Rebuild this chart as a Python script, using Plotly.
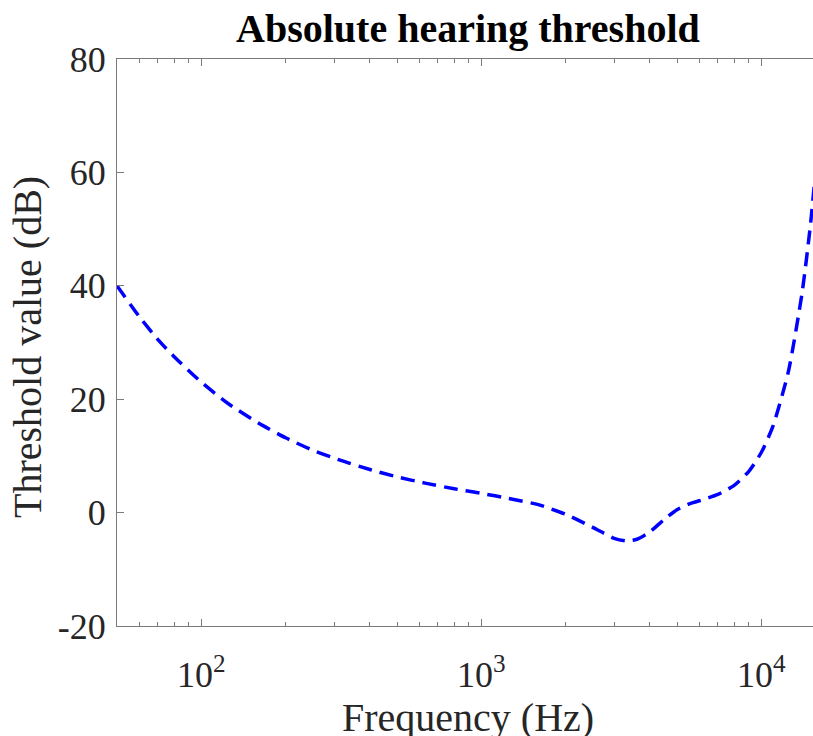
import numpy as np
import plotly.graph_objects as go

# Data
freq_hz = [50, 60, 70, 80, 100, 125, 160, 200, 250, 315, 400, 500, 630, 800,
           1000, 1250, 1600, 2000, 2500, 3000, 3300, 3600, 4000, 4500, 5000,
           5500, 6300, 7000, 8000, 9000, 10000, 11000, 12500, 14000, 15000, 16000]
threshold_db = [40.0, 34.6, 30.5, 27.5, 23.0, 19.2, 15.8, 13.2, 11.0, 9.2, 7.6, 6.3,
                5.2, 4.2, 3.4, 2.5, 1.4, -0.3, -2.6, -4.6, -5.0, -4.7, -3.4, -1.2,
                0.5, 1.5, 2.4, 3.2, 4.8, 7.2, 10.6, 15.2, 24.9, 38.9, 51.0, 65.9]

x_major = [100, 1000, 10000]
x_major_text = ["10<sup>2</sup>", "10<sup>3</sup>", "10<sup>4</sup>"]
x_minor = [50, 60, 70, 80, 90, 200, 300, 400, 500, 600, 700, 800, 900,
           2000, 3000, 4000, 5000, 6000, 7000, 8000, 9000, 20000]
y_ticks = [-20, 0, 20, 40, 60, 80]
y_tick_text = ["-20", "0", "20", "40", "60", "80"]

title_text = "Absolute hearing threshold"
x_label = "Frequency (Hz)"
y_label = "Threshold value (dB)"

FONT = "Liberation Serif"
AXC = "#262626"
LINEC = "#7a7a7a"

W, H = 813, 736
ML, MT, MR = 117, 59, 0
MB = H - 626
plot_w = W - ML - MR
plot_h = H - MT - MB
decade_px = 280.0
x_lo = np.log10(50)
x_hi = x_lo + plot_w / decade_px

fig = go.Figure()
fig.add_trace(go.Scatter(
    x=freq_hz, y=threshold_db, mode="lines",
    line=dict(color="#0000ff", width=3.5, dash="14px,8px", shape="spline", smoothing=0.6),
    showlegend=False, hoverinfo="skip",
))

fig.update_layout(
    width=W, height=H,
    margin=dict(l=ML, r=MR, t=MT, b=MB, pad=0, autoexpand=False),
    paper_bgcolor="white", plot_bgcolor="white",
    font=dict(family=FONT, color=AXC),
    xaxis=dict(
        type="log", range=[x_lo, x_hi], automargin=False,
        tickmode="array", tickvals=x_major, ticktext=x_major_text,
        ticks="inside", ticklen=7, tickwidth=1, tickcolor=LINEC,
        ticklabelstandoff=17,
        showline=True, linecolor=LINEC, linewidth=1, mirror="ticks",
        showgrid=False, zeroline=False,
        tickfont=dict(family=FONT, size=36, color=AXC),
        minor=dict(tickmode="array", tickvals=x_minor, ticks="inside",
                   ticklen=4, tickwidth=1, tickcolor=LINEC, showgrid=False),
    ),
    yaxis=dict(
        range=[-20, 80], automargin=False,
        tickmode="array", tickvals=y_ticks, ticktext=y_tick_text,
        ticks="inside", ticklen=7, tickwidth=1, tickcolor=LINEC,
        ticklabelstandoff=3,
        showline=True, linecolor=LINEC, linewidth=1, mirror=False,
        showgrid=False, zeroline=False,
        tickfont=dict(family=FONT, size=36, color=AXC),
    ),
    yaxis2=dict(
        overlaying="y", side="right", range=[-20, 80], automargin=False,
        tickmode="array", tickvals=y_ticks, showticklabels=False,
        ticks="inside", ticklen=2, tickwidth=1, tickcolor=LINEC,
        showline=False, showgrid=False, zeroline=False,
    ),
)

def px_x(sx):
    return (sx - ML) / plot_w

def px_y(sy):
    return (H - MB - sy) / plot_h

fig.add_annotation(text="<b>" + title_text + "</b>", xref="paper", yref="paper",
                   x=px_x(468), y=px_y(29), xanchor="center", yanchor="middle",
                   showarrow=False, font=dict(family=FONT, size=40, color="black"))
fig.add_annotation(text=x_label, xref="paper", yref="paper",
                   x=px_x(468), y=px_y(717), xanchor="center", yanchor="middle",
                   showarrow=False, font=dict(family=FONT, size=40, color=AXC))
fig.add_annotation(text=y_label, xref="paper", yref="paper",
                   x=px_x(27), y=px_y(347), xanchor="center", yanchor="middle",
                   textangle=-90, showarrow=False, font=dict(family=FONT, size=40, color=AXC))

fig.write_html("out.html",
               config={"displayModeBar": False},
               post_script="document.body.style.margin='0';document.body.style.overflow='hidden';")
